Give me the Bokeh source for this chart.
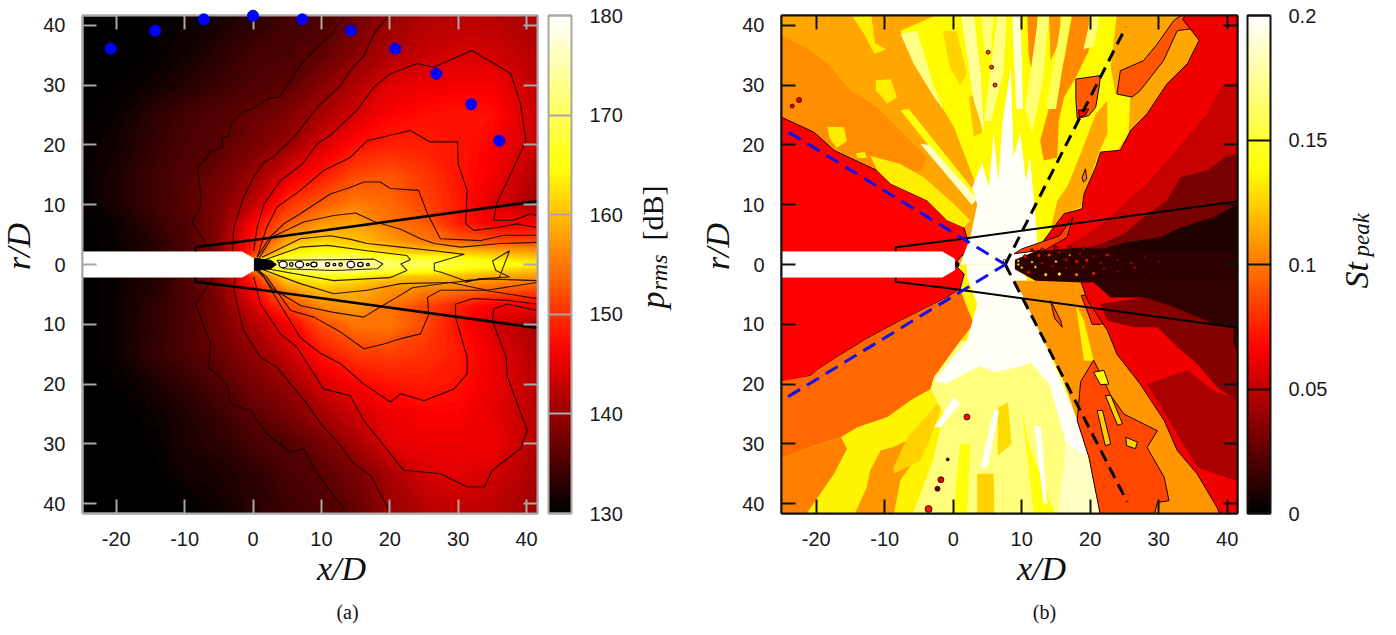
import numpy as np
from bokeh.core.properties import value
from bokeh.embed import file_html
from bokeh.layouts import row
from bokeh.models import (ColorBar, ColumnDataSource, FixedTicker, LinearAxis,
                          LinearColorMapper, Range1d)
from bokeh.plotting import figure
from bokeh.resources import INLINE

# ---------- common ----------
x_ticks = [-20, -10, 0, 10, 20, 30, 40]
r_ticks = [-40, -30, -20, -10, 0, 10, 20, 30, 40]
x_tick_labels = {v: str(v) for v in x_ticks}
r_tick_labels = {v: str(abs(v)) for v in r_ticks}
hot_stops = [(0.0, (0, 0, 0)), (0.33, (255, 0, 0)), (0.69, (255, 255, 0)), (1.0, (255, 255, 255))]


def hot(n):
    f = np.linspace(0, 1, n)
    s = [a for a, _ in hot_stops]
    chans = [np.interp(f, s, [c[i] for _, c in hot_stops]) for i in range(3)]
    return ["#%02x%02x%02x" % (int(r), int(g), int(b)) for r, g, b in zip(*chans)]


# ---------- panel (a): p_rms field ----------
a_x = [-25.1, -20, -15, -10, -5, 0, 2.5, 5, 10, 15, 20, 25, 30, 35, 41.7]
a_r = [41.7, 35, 30, 25, 20, 15, 10, 7, 4, 2, 1, 0, -1, -2, -4, -7, -10, -15, -20, -25, -30, -35, -41.7]
a_p = [
    [130, 130, 130.5, 131, 131.5, 133, 133.7, 134.5, 135, 137, 140, 141.5, 142, 142, 141.5],
    [130, 130, 130.5, 131.5, 133, 134.5, 134.8, 135, 136.5, 139.2, 141.5, 143, 144, 143.8, 142],
    [130, 130.5, 131.2, 132.5, 134, 135.3, 135.7, 136, 138.8, 141.5, 144.6, 145.5, 146, 146, 142.5],
    [130.3, 131, 133, 134.5, 135.5, 136.8, 137.5, 138.5, 141, 144, 146.5, 147.5, 148, 147.5, 143],
    [130.5, 131.5, 133.5, 135, 136, 138, 139, 140, 144, 147.5, 148.8, 148.7, 148, 146.5, 143],
    [130.5, 132, 134, 135.5, 137.5, 140, 142, 144.5, 148.2, 151.5, 152.5, 150.5, 148, 146, 141.5],
    [130.5, 132, 134, 135.8, 138.5, 142.5, 146, 150, 153, 155.5, 154, 151.5, 148.5, 144.5, 140.5],
    [130.3, 131, 133.5, 135.5, 138.5, 146.5, 150, 153, 157, 158, 155, 153, 148.5, 146, 146],
    [130, 131, 132.5, 135, 139, 148, 153, 158, 161.5, 160, 157.5, 155, 153, 152, 151],
    [130, 131, 132.5, 135, 139, 150, 157, 163, 165.5, 164.5, 162, 160.5, 161, 159.5, 158],
    [130, 131, 132.5, 135, 139, 155, 165, 168, 172, 172, 168, 167, 165, 163, 161],
    [130, 131, 132.5, 135, 139, 135, 170, 176, 178, 176, 171, 170, 168, 166, 164],
    [130, 131, 132.5, 135, 139, 155, 165, 168, 172, 172, 168, 166, 164, 162, 160],
    [130, 131, 132.5, 135, 139, 150, 157, 163, 165, 164, 161, 160, 160, 158.5, 157],
    [130, 131, 132.5, 135, 138.5, 147, 152, 157, 160.5, 159, 157, 156, 155.5, 154, 152],
    [130, 131, 133, 135, 138, 144, 148, 151, 156, 157.5, 154.5, 151.5, 148.5, 146, 146],
    [130, 131, 133, 135, 138, 141.5, 143.5, 146, 152, 154.8, 155, 152, 147.5, 144, 141],
    [130, 131, 133.5, 135, 137, 139.5, 141, 143, 147.9, 150.5, 151, 150, 148.5, 145.5, 141.5],
    [130, 130.5, 131.8, 133.5, 135.5, 138, 139, 140, 143.8, 146.5, 147.8, 148.5, 147.7, 145.5, 142],
    [130, 130, 130.8, 132.2, 134, 136.2, 137, 138, 140.7, 143.5, 145.5, 146.5, 146.5, 145, 142],
    [130, 130, 130.5, 132, 133, 134.8, 135.2, 135.5, 137.8, 140.8, 144.6, 145.5, 145.5, 146, 141.5],
    [130, 130, 130, 131.5, 132, 133, 134, 134.8, 136, 138, 141, 143.8, 144.8, 143.8, 141],
    [130, 130, 130, 130, 131, 132.8, 133.2, 134, 135, 136.5, 140, 141.5, 142.5, 142, 140.5],
]

# contour lines
c1 = ([-2.8, -3.3, -8.2, -8.9, -9.4, -11.1, -12.6, -16, -17.7, -17.7, -19.4, -17.5, -14],
      [41.4, 37.7, 39.7, 36.9, 34.7, 31, 29.1, 28.8, 24.1, 20.2, 12.1, 7.4, 2.3])
c2 = ([13.3, 11.3, 9.9, 7, 5.5, 3.8, 2.1, 0, -1.4, -3.1, -3.6, -4.5, -4.5, -6.2, -8.1, -7.6, -7.6, -8.9, -6.2],
      [41.3, 38.3, 36.9, 33.5, 30.7, 28, 27.7, 26, 25.7, 23.8, 21.5, 21.3, 19.6, 18.8, 16, 11.2, 9.6, 7.1, 2.3])
c3 = ([19.6, 17.7, 16.2, 14.2, 12.8, 9.4, 6, 3, 1.6, 0.1, -1.4, -2.8, -3],
      [41.4, 38.6, 34.9, 32.4, 29.9, 26.3, 21.3, 18, 17.1, 14.6, 11.2, 6.2, 2.3])
c4 = ([0.1, 0.6, 1.6, 4, 7.2, 9.4, 11.3, 15.2, 17.7, 20.1, 24, 26.4, 32, 37.7, 39.1, 39.9, 37.7, 35.6, 35.2, 38.1, 40.6, 41.5],
      [2.3, 6.2, 10.1, 14, 16.8, 20.2, 21.6, 25.8, 29.7, 31.9, 33.6, 33, 35.8, 31.9, 26.9, 20.7, 15.2, 10.1, 7.4, 7.4, 8.5, 8.2])
c5 = ([0.6, 2, 3.5, 6.9, 10.3, 14.2, 16.7, 20.1, 23, 25.9, 29.9, 30, 31.3, 31.1, 32.3, 35.7, 38.6, 41.5],
      [1.2, 6.2, 9.6, 12.4, 15.7, 17.9, 20.7, 21.6, 22.4, 20.5, 20.5, 16.8, 12.4, 6.8, 5.7, 6.2, 6.8, 6.2])
c6 = ([0.6, 2.5, 4.5, 6.9, 11.3, 13.8, 16.2, 18.6, 20.1, 24.2, 25.5, 27.4, 33.3, 36.7, 41.5],
      [1.2, 4.6, 6.8, 8.5, 11.8, 12.7, 13.8, 13.8, 12.7, 12.4, 8.5, 4.3, 4, 4.9, 4.9])
c7 = ([0.8, 2.8, 7.4, 11.8, 15, 17.9, 21.6, 24.5, 26.5, 30.4, 36.2, 41.5],
      [0.9, 4.6, 7.1, 8.2, 8.6, 7.1, 5.9, 4.3, 3.5, 2.9, 3.5, 3.7])
c8 = ([1.3, 6.9, 11.3, 14.3, 16.7, 21.6, 26.5, 30.9, 26.5, 26.5, 27.5, 31, 36, 37.5, 35, 35.5, 37.5, 33, 31],
      [1.2, 4.3, 4.8, 4.2, 3.5, 2.9, 2.3, 1.7, 0.2, -1, -1.3, -2.7, -2.2, 2.3, 0.6, -1, -2.1, -2.4, -3])
c9 = ([1.5, 6.9, 10.9, 16.7, 22.5, 23, 21.6, 22.5, 20, 11.8, 2],
      [0.7, 2.9, 3.2, 2.3, 1.5, 0.8, 0.1, -1, -2.2, -2.7, -0.7])
c10 = ([3.5, 11.8, 17.7, 19, 18.2, 11.8, 4.5, 3.5],
       [0.7, 0.8, 0.9, 0.1, -0.7, -1, -0.7, 0.7])
l1 = ([-12.3, -15.5, -18.2, -18.4, -17.5, -15.5, -15, -11.6, -10.6, -11.1, -9.6, -6.5, -4.8, -3.1],
      [-2.1, -4.3, -8.8, -14.9, -18.3, -20.2, -26.9, -26.6, -29.4, -33.9, -35.8, -35.3, -38.9, -41.1])
l2 = ([-5.8, -8.4, -7.5, -6.2, -6.5, -3.8, -3.3, -0.4, 2, 5.5, 7.4, 9.4, 13.5],
      [-2.1, -6.6, -9.4, -13.3, -17.2, -20, -23.3, -24.4, -28.3, -31.4, -30.8, -35, -41.1])
l3 = ([-2.6, -2.8, -1.4, 1.1, 3.5, 7.9, 9.9, 12.8, 14.7, 17.2, 19.9],
      [-2.1, -4.3, -11, -15.5, -17.2, -23.3, -26.6, -30.3, -33.3, -35.3, -41.1])
l4 = ([0.1, 1.1, 4, 6.4, 10.3, 14.2, 16.2, 22, 27.4, 31.3, 33.8, 35, 39.1, 40.1, 37.2, 37, 35, 35.2, 37.2, 41.5],
      [-2.1, -6.6, -11.6, -13.8, -20.8, -21.9, -26.1, -34.4, -35, -37.2, -37.2, -34.4, -30.8, -27.8, -18.8, -15.5, -9.4, -7.4, -6.6, -7.7])
l5 = ([0.5, 1.6, 3, 6.9, 9.9, 12.8, 16.2, 20.1, 21.6, 25, 29.4, 31.3, 31.3, 29.6, 29.6, 32.3, 37.2, 41.5],
      [-1, -2.1, -4.9, -12.2, -14.9, -16.6, -20, -23, -21.6, -22.8, -20.8, -18.3, -15.5, -8.8, -6.6, -5.7, -6, -6.6])
l6 = ([0.6, 2, 5.5, 8.9, 12.8, 16.2, 19.1, 21.6, 24.5, 25.7, 25.5, 27.4, 33.8, 41.5],
      [-0.8, -2.1, -7.7, -8.8, -11.3, -14.1, -13.3, -12.4, -11.6, -8.3, -5.5, -4.3, -4.3, -5.7])
l7 = ([0.8, 2.8, 7, 11.8, 16.2, 18.6, 21, 23.3, 28.9, 34.2, 41.5],
      [-0.8, -4, -6.9, -8, -8.8, -7.1, -5.5, -3.9, -3, -4.3, -3])
l8 = ([1.3, 6.9, 11.8, 16.7, 21.6, 29, 34, 41.5],
      [-0.8, -3.2, -4.9, -4.3, -3.2, -3, -2.4, -2.7])
a_lines = [c1, c2, c3, c4, c5, c6, c7, c8, c9, c10, l1, l2, l3, l4, l5, l6, l7, l8]

# white cells on the jet axis in panel (a)
cell_x = [4.4, 5.6, 6.8, 8.0, 8.9, 10.9, 11.9, 12.8, 14.3, 15.7, 16.8]
cell_w = [1.2, 0.5, 1.2, 0.4, 0.9, 0.6, 0.4, 0.5, 1.1, 0.8, 0.4]
cell_h = [1.1, 0.6, 1.1, 0.4, 0.8, 0.6, 0.4, 0.5, 1.1, 0.7, 0.4]

# far-field arc of panel (a)
arc_x = [-20.8, -14.3, -7.2, 0, 7.2, 14.3, 20.8, 26.8, 31.9, 36]
arc_r = [36.1, 39.1, 41, 41.6, 41, 39.1, 36.1, 31.9, 26.8, 20.7]

# shear-layer lines (both panels)
shear_up_x = [-8.4, -8.4, 0.1, 41.6]
shear_up_r = [2.2, 2.9, 4.1, 10.6]
shear_lo_x = [-8.4, -8.4, 0.1, 41.6]
shear_lo_r = [-2.2, -2.9, -4.1, -10.6]

# nozzle
nozzle_x = [-26, -1.6, 0.2, 0.2, -1.6, -26]
nozzle_r = [2.1, 2.1, 0.9, -0.9, -2.1, -2.1]
lip_x = [0.2, 2.6, 3.4, 2.6, 0.2]
lip_r = [1.0, 0.7, 0, -0.7, -1.0]

# ---------- panel (b): St_peak regions ----------
top_base = ([-26, 42, 42, -26], [42, 42, 0, 0])
bot_base = ([-26, 42, 42, -26], [0, 0, -42, -42])
o1 = ([-26, -20.8, -18.4, -15, -11.1, -7.7, -3.8, -4.8, -8, -11.1, -26],
      [38.9, 35.8, 33.6, 29.1, 26.3, 22.4, 17.9, 15.7, 15, 15.7, 24.6])
wedge_top = ([-26, -25, -20.3, -17.4, -11.1, -9.15, -3.8, -0.9, 1.55, 2.5, 1.1, 0.2, -26],
             [25, 24.6, 22.1, 19.1, 15.7, 13.5, 10.7, 7.4, 6.2, 2.6, 1.3, 0, 0])
y1 = ([-12.1, -7.7, -4.3, 0.1, 2.5, 1.5, -0.9, -3.8, -9.1, -11.1],
      [18.2, 16.8, 14.6, 10.1, 7.3, 6.2, 7.4, 10.7, 13.5, 15.7])
y2 = ([-18.4, -16, -15.5, -17, -18], [23, 23, 20.7, 19.5, 21])
y3 = ([-14.2, -12.9, -12.6, -14], [18.6, 18.8, 17.8, 17.8])
y4 = ([-11.3, -9.1, -8.2, -9.6, -11.3], [30.8, 31, 28, 26.9, 29.1])
y5 = ([-15, -12, -11.4, -9.8, -11.5, -13], [42, 42, 37, 36, 35.2, 38.5])
fan = ([-7.7, -1.8, 23.9, 23, 23.7, 25.9, 25.6, 24, 21.5, 19.1, 16.2, 13.2, 11.8, 2.5, 4, 0.1, -2.8],
       [39.1, 42, 42, 33, 28.5, 29.1, 21.9, 19.1, 18.5, 9.6, 8.5, 4, 1.2, 4.6, 11.3, 23, 28.5])
so1 = ([17.4, 19.8, 19.8, 17.9, 16.2, 15.4, 15.2, 13.2, 12.7, 14.4, 16.2],
       [42, 42, 35.8, 31.3, 28, 24, 17.9, 17.4, 20.7, 28, 34.2])
so2 = ([10.8, 12.3, 12, 11.5, 11], [42, 42, 34.1, 31.9, 35.2])
so3 = ([14, 15.7, 15.4, 14.2], [42, 42, 36.9, 34.1])
so4 = ([18.6, 20.8, 22.5, 22.5, 21.3, 18.6, 16.2, 14.2, 15.2, 16.6],
       [18.5, 25.2, 27.4, 21.9, 18.8, 9.6, 8.5, 5.7, 10.7, 12.9])
so5 = ([-1.5, 0.5, 2, 1, -0.5], [39, 39, 32, 30, 33])
so6 = ([2.3, 3.6, 4.2, 3], [28, 28.5, 22, 21.5])
st1 = ([-7.7, -6.5, 3.5, 3], [25.8, 26, 11.7, 10.5])
st2 = ([-4.8, -3.5, 3.5, 2.7], [20.2, 20, 11, 10])
p1 = ([-7.7, -5.3, -2.8, -1.4, -2.8, -5.8], [38.6, 39.1, 29.7, 25.8, 28, 33.6])
p2 = ([1.1, 3, 4, 4.5, 3], [42, 42, 31.9, 21.9, 27.4])
p3 = ([4, 5.9, 5.5, 4.5], [42, 42, 34.7, 35.8])
p4 = ([12.5, 14, 13, 11.5, 10.5], [42, 42, 30, 22, 26])
p5 = ([16, 17.2, 15, 13.5], [42, 42, 26, 26])
p6 = ([20.2, 21.5, 20.5, 19], [42, 42, 36.5, 36])
p7 = ([6.5, 7.8, 7.3, 5.5, 4.5], [42, 42, 32, 24, 24])
p8 = ([8.6, 9.8, 10.2, 9.2], [42, 42, 26, 26])
wt = ([1, 2.5, 3.5, 2.8, 4.2, 5.2, 5.9, 6.6, 7.2, 8.4, 8.8, 9.8, 10.6, 11.2, 12, 12.3, 10, 1],
      [0, 4.6, 10, 13, 17, 13, 22, 14, 24, 33, 18, 22, 14, 18, 8, 3, 0, 0])
patch1 = ([17.9, 21.5, 21.3, 20.8, 19.8, 18.1, 17.9], [31, 31.6, 29.7, 26.3, 24.9, 24.4, 27.7])
patch1b = ([18.3, 19.8, 19.3, 18.4], [25.8, 26, 25, 24.6])
patch2 = ([23.9, 24.4, 27.8, 29.8, 32.2, 33.7, 34.6, 32.7, 30.7, 27.3, 26.1],
          [28.5, 32.4, 34.1, 36.9, 40.8, 42, 39.4, 39.1, 34.1, 29.1, 28])
edge_top = ([12.3, 13.2, 16.2, 18.8, 19.1, 20.8, 21.5, 24.4, 25.9, 28.3, 31.2, 34.2, 35.9, 34.6, 33.5, 34, 42, 42],
            [1.8, 4, 8.5, 9.3, 11.8, 16.3, 18.8, 19.1, 22.4, 25.2, 30.2, 33.6, 37.5, 39.4, 41, 42, 42, 0])
r2 = ([42, 39, 37.1, 33.7, 31.2, 28.3, 25.4, 22.5, 19.6, 16.2, 42],
      [30.8, 29.7, 25.2, 20.7, 17.4, 13.5, 10.7, 7.4, 5.1, 2.9, 0])
r3 = ([42, 40, 37.1, 33.2, 31.2, 27.8, 24.9, 21.5, 17.6, 42],
      [18.5, 18.2, 15.7, 14.6, 10.7, 7.9, 5.1, 3.4, 2.3, 0])
r4 = ([42, 38, 33.2, 30.3, 25.4, 21.5, 18, 42], [10.4, 7.9, 6.2, 4.6, 3.7, 2.5, 1.5, 0])
isl_t1 = ([18.8, 19.3, 19.5, 19], [14.5, 16, 14.3, 13.8])
isl_t2 = ([8.9, 13.5, 16.6, 17.5, 15.5, 12.5, 10], [1.8, 2.5, 4.5, 8, 4.8, 3.6, 2.6])

wedge_bot = ([-26, -25, -20.8, -19.9, -17.4, -12.6, -7.7, -4.7, -0.9, 1, 1.6, 0.2, -26],
             [-19.8, -19.7, -18.6, -17.7, -15.8, -12.4, -9.4, -7.7, -5.5, -4.1, -1.6, 0, 0])
bo1 = ([-26, -20.8, -19.9, -17.4, -12.6, -7.7, -4.7, -0.9, 1, 2, 3, 1.1, -2.8, -3.3, -6.2, -9.6, -14, -16.4, -20.8, -26],
       [-19.7, -18.6, -17.7, -15.8, -12.4, -9.4, -7.7, -5.5, -4.1, -7.1, -9.9, -12.7, -18.8, -20.8, -22.7, -25.5, -27.2, -28.9, -30.5, -33])
bo2 = ([-26, -20.8, -16.4, -15.5, -17.4, -21.6, -26], [-33, -30.5, -28.9, -30.8, -35, -42, -42])
bo3 = ([-14.5, -12.6, -12.1, -10.6, -8.7, -6.7, -5.7, -7.7, -8.7], [-42, -37.2, -34.4, -31.1, -30.5, -29.4, -32.8, -36, -42])
bo4 = ([-8.7, -6.7, -2.8, -1.4, -3.3, -4.8, -8.7], [-33.9, -28.9, -23.9, -22.7, -28.9, -32.8, -35])
bp = ([-3.3, -2.8, 1.1, 14.2, 15.7, 17.1, 18.1, 19.8, 21.5, -6, -3, -1.4],
      [-20.8, -18.8, -12.7, -15, -18.3, -22.7, -26.1, -32.2, -42, -42, -33, -25])
bs1 = ([3.5, 5.9, 6, 3.5], [-35, -35, -42, -42])
bs2 = ([6.5, 8, 8.5, 6.5], [-24, -23, -30, -32])
bs3 = ([11.8, 14.9, 11, 10], [-42, -42, -30, -24])
bs4 = ([0, 2, 2.5, 1], [-42, -42, -30, -30])
bw1 = ([-2.8, 2, 3.5, 2, 2, 10, 14.2, 10, 6, 4, 2, -1],
       [-19.4, -12.7, -6.6, -2, 0, 0, -15, -17, -18, -17, -18, -20])
bw2 = ([-2.8, 0.1, 1, -1.8], [-27.2, -22.2, -23.3, -27.2])
bw3 = ([4, 5.9, 6.7, 5], [-33.9, -24.4, -24.4, -33.9])
bw4 = ([14, 17, 18.1, 19.8, 16.5, 14, 11], [-15, -23, -26.1, -32.2, -30, -20, -16])
bw5 = ([13.2, 11.8, 12.8, 13.7], [-40, -27, -27, -40])
bq = ([15.3, 21.5, 19.8, 16.5], [-42, -42, -32.2, -30])
band = ([8.9, 18.6, 19.6, 22.5, 23.9, 27.3, 30.8, 32.7, 35.6, 38.5, 39, 21.5, 19.8, 18.1, 17.1, 15.7, 14.2, 11.8, 10.3],
        [-2.7, -2.7, -6, -11, -15, -20, -26.1, -31.1, -35, -40.6, -42, -42, -32.2, -26.1, -22.7, -18.3, -15, -9.4, -5.5])
ry1 = ([17.9, 19.1, 20.5, 19.1, 18.6], [-6.6, -9.4, -16.1, -16.1, -12.2])
ro = ([18.6, 20.5, 23, 24.9, 29.8, 28.3, 30.8, 31.5, 29.8, 29.3, 21.5, 19.8, 18.1],
      [-19.6, -16, -21.9, -25, -27.8, -30.6, -35.6, -39.5, -39.8, -42, -42, -32.2, -26.1])
ro2 = ([14.2, 15.7, 15.9, 14.8], [-6, -9.4, -10.5, -9])
isl1 = ([20.5, 22, 22.7, 21.5], [-18, -17.7, -20, -20.1])
isl2 = ([22.2, 23, 24.7, 24], [-21.9, -21.9, -26.6, -26.9])
isl3 = ([21, 21.8, 23, 22.2], [-24.4, -24.4, -30, -30.3])
isl4 = ([25.2, 26.9, 26.6, 25.3], [-28.9, -29.7, -30.8, -30.3])
isl5 = ([18.7, 19.8, 21.3, 22.7, 23, 21.5, 20.3], [-5.2, -5, -6.7, -8.5, -9.4, -10, -10])
edge_bot = ([18.6, 19.6, 22.5, 23.9, 27.3, 30.8, 32.7, 35.6, 38.5, 39, 42, 42],
            [-2.7, -6, -11, -15, -20, -26.1, -31.1, -35, -40.6, -42, -42, -2])
b2 = ([34.2, 28.3, 31.2, 35.6, 41, 42, 42, 38], [-17.7, -20, -25.5, -33.9, -36.1, -36.1, -22.7, -21.1])
b3 = ([21.5, 22.5, 26.4, 29.8, 32.7, 35.6, 38.5, 42, 42], [-6.6, -9.4, -10.5, -10.5, -13.8, -16.6, -20.5, -23.3, -3])
b4 = ([20, 23, 28, 32.2, 38, 41, 40.8, 42, 42], [-2.5, -5.5, -5.5, -7.1, -9.9, -10.7, -13, -15.5, -2])
jet_dark = ([9, 12, 18, 42, 42, 19, 12, 9], [0.8, 2.2, 2.8, 2, -2.5, -3, -2.7, -0.8])

b_regions = [
    (top_base, 0.113, 0), (bot_base, 0.135, 0), (o1, 0.1055, 0), (wedge_top, 0.066, 1), (y1, 0.133, 0),
    (y2, 0.133, 0), (y3, 0.133, 0), (y4, 0.133, 0), (y5, 0.133, 0), (fan, 0.137, 0),
    (so1, 0.105, 0), (so2, 0.105, 0), (so3, 0.108, 0), (so4, 0.113, 0), (so5, 0.125, 0), (so6, 0.12, 0),
    (st1, 0.14, 0), (st2, 0.185, 0), (p1, 0.17, 0), (p2, 0.175, 0), (p3, 0.165, 0),
    (p4, 0.165, 0), (p5, 0.16, 0), (p6, 0.165, 0), (p7, 0.17, 0), (p8, 0.19, 0), (wt, 0.198, 0),
    (patch1, 0.092, 1), (patch1b, 0.066, 1), (patch2, 0.09, 1), (edge_top, 0.063, 1),
    (r2, 0.052, 0), (r3, 0.032, 0), (r4, 0.009, 0), (isl_t1, 0.1, 1), (isl_t2, 0.085, 1),
    (wedge_bot, 0.066, 1), (bo1, 0.096, 0), (bo2, 0.102, 0), (bo3, 0.108, 0), (bo4, 0.125, 0),
    (bp, 0.168, 0), (bs1, 0.125, 0), (bs2, 0.128, 0), (bs3, 0.14, 0), (bs4, 0.14, 0),
    (bw1, 0.198, 0), (bw2, 0.198, 0), (bw3, 0.198, 0), (bw4, 0.198, 0), (bw5, 0.198, 0), (bq, 0.185, 0),
    (band, 0.108, 0), (ry1, 0.135, 0), (ro, 0.086, 1), (ro2, 0.088, 1), (isl1, 0.14, 1), (isl2, 0.125, 1),
    (isl3, 0.125, 1), (isl4, 0.125, 1), (isl5, 0.075, 1),
    (edge_bot, 0.063, 1), (b2, 0.044, 0), (b3, 0.035, 0), (b4, 0.014, 0), (jet_dark, 0.012, 0),
]

# speckles along the jet and scattered spots in panel (b)
speck_x = [9.5, 10.5, 11.5, 12.5, 13, 14, 15, 15.5, 16.5, 17, 18, 18.5, 19.5, 20.5, 21.5, 22.5, 24, 26, 28, 30,
           10, 11, 12, 13.5, 14.5, 15.5, 16.5, 18, 19, 20.5, 22, 24, 26.5, 29, 9.5, 11.5, 13, 15, 17, 19,
           5.1, 5.6, 6.1, -23.5, -22.5, 2, -1.8, -2.3, -3.6, -0.8, 0.5, 7.5]
speck_r = [0.6, 1.3, 0.4, 1.5, 0.2, 1.6, 0.5, 2, 0.8, 1.6, 0.5, 1.8, 0.7, 1.4, 0.3, 1.6, 0.7, 0.2, 1.3, 0.5,
           -0.5, -1.3, -0.4, -1.7, -0.3, -1.6, -0.6, -1.7, -0.4, -1.5, -0.7, -1.2, -0.5, -1.4, 0, 2.4, 2.5, 2.8, 2.9, 2.6,
           35.5, 33, 30, 26.5, 27.5, -25.5, -36, -37.5, -40.9, -32.6, 0, 0.6]
speck_v = [0.13, 0.06, 0.14, 0.07, 0.05, 0.08, 0.14, 0.06, 0.05, 0.1, 0.06, 0.05, 0.07, 0.05, 0.05, 0.06, 0.04, 0.05, 0.03, 0.04,
           0.13, 0.06, 0.14, 0.12, 0.05, 0.14, 0.05, 0.1, 0.06, 0.07, 0.05, 0.04, 0.05, 0.03, 0.13, 0.06, 0.07, 0.05, 0.06, 0.04,
           0.08, 0.08, 0.08, 0.06, 0.06, 0.07, 0.06, 0.03, 0.07, 0.02, 0.0, 0.14]
speck_s = [3, 4, 3, 4, 3, 4, 3, 3, 4, 3, 4, 3, 4, 3, 3, 4, 3, 3, 3, 3,
           3, 4, 3, 4, 3, 4, 3, 4, 3, 4, 3, 3, 3, 3, 3, 3, 3, 4, 3, 3,
           4, 4, 4, 4, 5, 6, 6, 5, 7, 3, 5, 3]

blue_up_x = [-24, 7.6]
blue_up_r = [22.1, 0]
blue_lo_x = [-24.1, 7.6]
blue_lo_r = [-22.1, 0]
black_up_x = [7.6, 25.2]
black_up_r = [0, 39.7]
black_lo_x = [7.6, 25.4]
black_lo_r = [0, -39.7]


def panel(width, border_left, border_right, x_start, x_end, rim, fill):
    fig = figure(width=width, height=635, output_backend="svg", toolbar_location=None,
                 x_range=Range1d(x_start, x_end), y_range=Range1d(-41.64, 41.64),
                 min_border_left=border_left, min_border_right=border_right,
                 min_border_top=15, min_border_bottom=122,
                 x_axis_type=None, y_axis_type=None, background_fill_color=fill)
    fig.grid.visible = False
    fig.outline_line_color = rim
    fig.outline_line_width = 2
    fig.outline_line_alpha = 1

    def axis(ticks, labels, place, show):
        ax = LinearAxis(ticker=FixedTicker(ticks=ticks), major_tick_in=14, major_tick_out=0,
                        major_tick_line_color=rim, major_tick_line_width=2, axis_line_color=rim,
                        axis_line_width=2, minor_tick_line_color=None,
                        major_label_overrides=labels if show else {k: "" for k in labels},
                        major_label_text_font="Liberation Sans", major_label_text_font_size="20px" if show else "0px",
                        major_label_text_color="#1a1a1a", major_label_standoff=(18 if place == "below" else 17) if show else 0)
        fig.add_layout(ax, place)

    axis(x_ticks, x_tick_labels, "below", True)
    axis(r_ticks, r_tick_labels, "left", True)
    axis(x_ticks, x_tick_labels, "above", False)
    axis(r_ticks, r_tick_labels, "right", False)
    return fig


def add_bar(fig, mapper, ticks, labels, rim, shift):
    fig.add_layout(ColorBar(color_mapper=mapper, width=23, height=498, location=(shift, 0), margin=0, padding=0,
                            ticker=FixedTicker(ticks=ticks), major_label_overrides=labels,
                            major_tick_in=23, major_tick_out=0, major_tick_line_color=rim, major_tick_line_width=2,
                            minor_tick_line_color=None, bar_line_color=rim, bar_line_width=2,
                            major_label_text_font="Liberation Sans", major_label_text_font_size="20px",
                            major_label_text_color="#1a1a1a", label_standoff=18), "right")


def word(fig, to_x, to_y, px, py, text, size, font_style="italic", angle=0, align="center"):
    fig.text(x=[to_x(px)], y=[to_y(py)], text=[text], text_font=value("Liberation Serif"),
             text_font_size=f"{size}px", text_font_style=font_style, angle=angle, angle_units="deg",
             text_align=align, text_baseline="alphabetic", text_color="#111111", level="overlay")


to_r = lambda py: (264 - py) / 5.98

# ---------- draw (a) ----------
GRAY = "#a8a8a8"
pa = panel(698, 82, 161, -24.93, 41.59, GRAY, "black")
a_levels = np.arange(130, 178, 0.5)
a_colors = hot(100)
for lvl, col in zip(a_levels, a_colors):
    pa.contour(a_x, a_r[::-1], np.array(a_p)[::-1], [float(lvl), 200.0], fill_color=col)
pa.multi_line([c[0] for c in a_lines], [c[1] for c in a_lines], line_color="#140600", line_width=1.1, line_alpha=0.9)
pa.ellipse(cell_x, [0] * len(cell_x), width=cell_w, height=cell_h, fill_color="white", line_color="black", line_width=1.3)
pa.patch(nozzle_x, nozzle_r, fill_color="white", line_color="white", line_width=1)
pa.patch(lip_x, lip_r, fill_color="black", line_color="black")
pa.line(shear_up_x, shear_up_r, line_color="black", line_width=2.6)
pa.line(shear_lo_x, shear_lo_r, line_color="black", line_width=2.6)
pa.scatter(arc_x, arc_r, size=11, fill_color="#0000ff", line_color="#0000ff", level="overlay")
map_a = LinearColorMapper(palette=hot(256), low=130, high=180)
add_bar(pa, map_a, [130, 140, 150, 160, 170, 180], {130: "130", 140: "140", 150: "150", 160: "160", 170: "170", 180: "180"}, GRAY, 11)
xa = lambda px: (px - 252.5) / 6.84
word(pa, xa, to_r, 341, 568, "x/D", 34)
word(pa, xa, to_r, 18, 246, "r/D", 34, angle=90)
word(pa, xa, to_r, 652, 308, "p", 34, angle=90, align="left")
word(pa, xa, to_r, 658, 290, "rms", 24, angle=90, align="left")
word(pa, xa, to_r, 652, 240, "[dB]", 30, font_style="normal", angle=90, align="left")
word(pa, xa, to_r, 347, 612, "(a)", 20, font_style="normal")

# ---------- draw (b) ----------
pb = panel(690, 83, 151, -25.07, 41.5, "#111111", "white")
map_b = LinearColorMapper(palette=hot(256), low=0, high=0.2)
src = ColumnDataSource(dict(
    xs=[g[0][0] for g in b_regions], ys=[g[0][1] for g in b_regions], v=[g[1] for g in b_regions],
    lc=["#1a0000" if g[2] else "rgba(0,0,0,0)" for g in b_regions]))
pb.patches("xs", "ys", source=src, fill_color={"field": "v", "transform": map_b}, line_color="lc", line_width=1)
spk = ColumnDataSource(dict(x=speck_x, y=speck_r, v=speck_v, s=speck_s))
pb.scatter("x", "y", size="s", source=spk, fill_color={"field": "v", "transform": map_b}, line_color="#1a0000", line_width=0.8)
pb.patch(nozzle_x, nozzle_r, fill_color="white", line_color="white", line_width=1)
pb.line(shear_up_x, shear_up_r, line_color="black", line_width=2)
pb.line(shear_lo_x, shear_lo_r, line_color="black", line_width=2)
pb.line(black_up_x, black_up_r, line_color="black", line_width=3, line_dash="12 7")
pb.line(black_lo_x, black_lo_r, line_color="black", line_width=3, line_dash="12 7")
pb.line(blue_up_x, blue_up_r, line_color="#1010f0", line_width=3, line_dash="14 8")
pb.line(blue_lo_x, blue_lo_r, line_color="#1010f0", line_width=3, line_dash="14 8")
add_bar(pb, map_b, [0, 0.05, 0.1, 0.15, 0.2], {0: "0", 0.05: "0.05", 0.1: "0.1", 0.15: "0.15", 0.2: "0.2"}, "#111111", 10)
xb = lambda px: (px - 952.7) / 6.85
word(pb, xb, to_r, 1041, 568, "x/D", 34)
word(pb, xb, to_r, 717, 246, "r/D", 34, angle=90)
word(pb, xb, to_r, 1356, 288, "St", 34, angle=90, align="left")
word(pb, xb, to_r, 1361, 256, "peak", 23, angle=90, align="left")
word(pb, xb, to_r, 1044, 612, "(b)", 20, font_style="normal")

layout = row(pa, pb)
open("out.html", "w").write(file_html(layout, INLINE))
